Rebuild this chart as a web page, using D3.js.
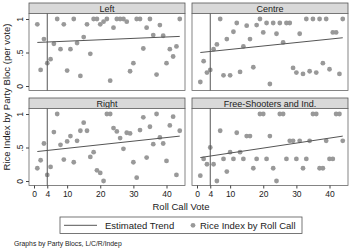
<!DOCTYPE html>
<html>
<head>
<meta charset="utf-8">
<script src="https://cdn.jsdelivr.net/npm/d3@7"></script>
<style>
  body { margin: 0; background: #fff; }
  text { font-family: "Liberation Sans", Arial, sans-serif; fill: #222; }
</style>
</head>
<body>
<svg id="chart" width="350" height="249"></svg>
<script>
// roll call votes 1..44
const votes = d3.range(1, 45);
const panelNames = ['Left', 'Centre', 'Right', 'Free-Shooters and Ind.'];

const leftRice = [0.92, 0.24, 0.70, 0.34, 0.40, 0.63, 1.0, 0.55, 0.92, 0.23,
  0.55, 1.0, 0.64, 0.15, 0.73, 0.92, 0.48, 1.0, 1.0, 0.92,
  0.96, 1.0, 0.08, 0.87, 1.0, 1.0, 1.0, 0.96, 0.22, 0.34,
  1.0, 1.0, 0.56, 0.87, 1.0, 0.76, 0.17, 0.91, 0.75, 0.34,
  0.55, 0.44, 0.59, 1.0];
const centreRice = [0.06, 0.37, 0.20, 0.24, 0.55, 0.62, 1.0, 0.16, 0.70, 0.16,
  0.81, 0.94, 0.21, 0.59, 0.90, 0.70, 0.28, 0.91, 1.0, 0.80,
  0.94, 0.03, 0.94, 0.78, 0.94, 0.65, 0.94, 0.94, 0.27, 0.20,
  0.78, 0.18, 1.0, 0.22, 1.0, 0.20, 1.0, 0.34, 1.0, 0.25,
  0.80, 0.80, 0.18, 1.0];
const rightRice = [0.19, 0.31, 0.56, 0.09, 0.21, 0.73, 1.0, 0.54, 0.32, 0.59,
  0.67, 0.28, 0.60, 0.75, 0.87, 0.75, 0.36, 0.43, 0.16, 0.12,
  0.0, 1.0, 1.0, 0.79, 0.74, 0.64, 0.48, 0.72, 0.71, 0.28,
  0.05, 0.76, 0.95, 0.35, 0.81, 0.55, 1.0, 0.65, 0.56, 0.30,
  0.83, 0.96, 0.09, 0.75];
const freeRice = [0.08, 0.33, 0.25, 0.50, 0.25, 0.0, 0.75, 0.33, 0.14, 0.43,
  0.33, 0.72, 0.43, 0.33, 0.67, 0.67, 0.19, 0.33, 1.0, 1.0,
  0.33, 0.67, 0.19, 0.0, 1.0, 1.0, 0.33, 0.60, 0.60, 0.33,
  0.60, 0.19, 0.33, 0.60, 1.0, 1.0, 0.19, 0.19, 0.60, 0.33,
  0.33, 1.0, 1.0, 0.60];
const riceSeries = [leftRice, centreRice, rightRice, freeRice];

// estimated trend: fitted value at first and last vote
const trendVotes = [1, 44];
const trendStart = [0.65, 0.50, 0.44, 0.35];
const trendEnd = [0.74, 0.72, 0.67, 0.67];

const breakVote = 4;
const xTicks = [0, 4, 10, 20, 30, 40];
const yTicks = [0, 0.5, 1];
const yTickLabels = ['0', '.5', '1'];

const svg = d3.select('#chart');
const colX = [29, 192];
const rowY = [3, 98];
const panelW = 156, headH = 10.5, plotH = 77;
const dotColor = '#999999', lineColor = '#555555';

const x = d3.scaleLinear().domain([0, 40]).range([5, 137.5]);
const y = d3.scaleLinear().domain([0, 1]).range([72.5, 5.5]);

panelNames.forEach((name, i) => {
  const col = i % 2, row = Math.floor(i / 2);
  const g = svg.append('g')
    .attr('transform', `translate(${colX[col]}, ${rowY[row]})`);

  g.append('rect').attr('width', panelW).attr('height', headH)
    .attr('fill', '#d9d9d9').attr('stroke', '#555').attr('stroke-width', 0.8);
  g.append('text').attr('x', panelW / 2).attr('y', headH / 2 + 3.3)
    .attr('text-anchor', 'middle').attr('font-size', 9).text(name);

  const p = g.append('g').attr('transform', `translate(0, ${headH})`);
  p.append('rect').attr('width', panelW).attr('height', plotH)
    .attr('fill', '#fff').attr('stroke', '#666').attr('stroke-width', 0.8);

  p.selectAll('circle').data(riceSeries[i]).join('circle')
    .attr('cx', (d, k) => x(votes[k])).attr('cy', d => y(d))
    .attr('r', 2.4).attr('fill', dotColor);

  p.append('line')
    .attr('x1', x(breakVote)).attr('x2', x(breakVote))
    .attr('y1', 0).attr('y2', plotH)
    .attr('stroke', lineColor).attr('stroke-width', 1);

  p.append('path')
    .attr('d', d3.line()([[x(trendVotes[0]), y(trendStart[i])],
      [x(trendVotes[1]), y(trendEnd[i])]]))
    .attr('stroke', lineColor).attr('stroke-width', 1).attr('fill', 'none');

  if (col === 0) {
    const ya = p.append('g')
      .call(d3.axisLeft(y).tickValues(yTicks).tickSize(3)
        .tickFormat((d, k) => yTickLabels[k]));
    ya.select('.domain').remove();
    ya.selectAll('line').attr('stroke', '#444');
    ya.selectAll('text').attr('font-size', 8.5).attr('fill', '#222')
      .attr('transform', 'rotate(-90)').attr('text-anchor', 'middle')
      .attr('x', 0).attr('y', -6).attr('dy', 0);
  }
  if (row === 1) {
    const xa = p.append('g').attr('transform', `translate(0, ${plotH})`)
      .call(d3.axisBottom(x).tickValues(xTicks).tickSize(3));
    xa.select('.domain').remove();
    xa.selectAll('line').attr('stroke', '#444');
    xa.selectAll('text').attr('font-size', 8.5).attr('fill', '#222').attr('y', 5);
  }
});

svg.append('text').attr('transform', 'translate(10, 97) rotate(-90)')
  .attr('text-anchor', 'middle').attr('font-size', 9.5)
  .text('Rice Index by Party Bloc (per vote)');

svg.append('text').attr('x', 181).attr('y', 210)
  .attr('text-anchor', 'middle').attr('font-size', 9.5).text('Roll Call Vote');

const legend = svg.append('g').attr('transform', 'translate(60, 217)');
legend.append('rect').attr('width', 242).attr('height', 16.5)
  .attr('fill', '#fff').attr('stroke', '#555').attr('stroke-width', 0.8);
legend.append('line').attr('x1', 4).attr('x2', 37).attr('y1', 8.3).attr('y2', 8.3)
  .attr('stroke', lineColor).attr('stroke-width', 1);
legend.append('text').attr('x', 45).attr('y', 11.5).attr('font-size', 9.5)
  .text('Estimated Trend');
legend.append('circle').attr('cx', 133).attr('cy', 8.3).attr('r', 2.4)
  .attr('fill', dotColor);
legend.append('text').attr('x', 140).attr('y', 11.5).attr('font-size', 9.5)
  .text('Rice Index by Roll Call');

svg.append('text').attr('x', 14).attr('y', 246).attr('font-size', 6.8)
  .text('Graphs by Party Blocs, L/C/R/Indep');
</script>
</body>
</html>
